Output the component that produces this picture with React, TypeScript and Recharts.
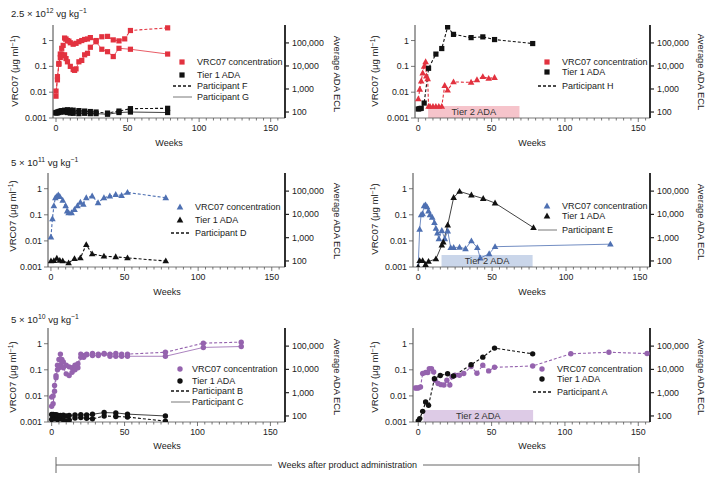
import React from 'react';
import { ComposedChart, Line, XAxis, YAxis, ReferenceArea } from 'recharts';

const FONT = "'Liberation Sans', Arial, Helvetica, sans-serif";
const RED = '#e2323f';
const BLUE = '#4e70b2';
const PURPLE = '#9563ae';
const BLACK = '#111';
const TXT = '#222';

// 2.5 x 10^12 vg/kg : participants F (dashed) and G (solid)
const fWeeks = [0, 1, 2, 3, 4, 5, 6, 7, 8, 9, 10, 12, 14, 16, 18, 20, 22, 24, 28, 32, 36, 40, 44, 48, 52, 78];
const fVrc = [0.011, 0.03, 0.13, 0.3, 0.5, 0.65, 1.25, 1.15, 1.0, 0.95, 0.82, 0.72, 0.78, 0.9, 1.0, 1.1, 1.15, 1.3, 1.0, 1.4, 1.45, 1.06, 0.97, 1.16, 2.45, 3.1];
const gWeeks = [0, 1, 2, 3, 4, 5, 6, 7, 8, 10, 12, 13, 14, 16, 18, 20, 22, 24, 28, 32, 36, 40, 44, 52, 78];
const gVrc = [0.007, 0.04, 0.12, 0.22, 0.3, 0.26, 0.28, 0.2, 0.15, 0.1, 0.075, 0.07, 0.08, 0.15, 0.17, 0.28, 0.32, 0.55, 0.9, 0.46, 0.37, 0.24, 0.5, 0.46, 0.3];
const fgAdaWeeks = [0, 1, 2, 3, 4, 6, 8, 10, 12, 16, 20, 24, 28, 36, 44, 52, 78];
const fAda = [95, 100, 105, 110, 115, 120, 125, 120, 120, 115, 110, 105, 100, 90, 110, 140, 145];
const gAda = [90, 92, 95, 100, 105, 100, 95, 90, 88, 85, 88, 85, 85, 80, 95, 100, 95];

// participant H
const hWeeks = [0, 1, 2, 3, 4, 5, 5.5, 6.4, 7, 8, 10, 12, 14, 16, 18, 20, 24, 36, 40, 44, 48, 52];
const hVrc = [0.0055, 0.013, 0.027, 0.055, 0.1, 0.15, 0.042, 0.033, 0.0028, 0.0028, 0.0028, 0.0028, 0.0028, 0.0028, 0.018, 0.012, 0.025, 0.024, 0.03, 0.04, 0.034, 0.037];
const hAdaWeeks = [0, 1, 2, 4, 7, 12, 16, 20, 24, 36, 44, 52, 78];
const hAda = [135, 140, 145, 245, 7900, 32700, 57000, 494000, 235000, 170000, 183000, 140000, 94000];
const hTier2 = [6.7, 69];

// 5 x 10^11 vg/kg : participant D
const dWeeks = [0, 1, 2, 3, 4, 5, 6, 8, 10, 11, 12, 14, 16, 18, 20, 22, 24, 28, 32, 36, 40, 44, 48, 52, 78];
const dVrc = [0.014, 0.07, 0.22, 0.45, 0.5, 0.58, 0.5, 0.36, 0.22, 0.14, 0.12, 0.12, 0.16, 0.22, 0.3, 0.25, 0.45, 0.52, 0.29, 0.45, 0.52, 0.6, 0.55, 0.72, 0.45];
const dAdaWeeks = [0, 2, 4, 6, 8, 12, 16, 20, 24, 28, 36, 44, 52, 78];
const dAda = [100, 103, 130, 105, 100, 82, 125, 135, 500, 200, 160, 150, 135, 100];

// participant E
const eWeeks = [0, 1, 2, 3, 4, 5, 6, 7, 8, 9.5, 11, 12, 13, 14, 16, 18, 20, 22, 24, 28, 32, 36, 40, 42, 48, 52, 130];
const eVrc = [0.001, 0.028, 0.1, 0.11, 0.22, 0.24, 0.2, 0.14, 0.1, 0.08, 0.05, 0.03, 0.02, 0.012, 0.025, 0.012, 0.024, 0.0055, 0.0056, 0.0057, 0.005, 0.01, 0.0055, 0.0022, 0.0032, 0.006, 0.0075];
const eAdaWeeks = [0, 1, 3, 5, 7, 12, 16, 17, 20, 24, 28, 36, 44, 52, 78];
const eAda = [55, 103, 103, 70, 95, 122, 475, 650, 3500, 53000, 97000, 68000, 48000, 30700, 2700];
const eTier2 = [15.8, 77.4];

// 5 x 10^10 vg/kg : participants B (dashed) and C (solid)
const bcWeeks = [0, 1, 2, 3, 4, 5, 6, 7, 8, 10, 12, 14, 16, 18, 20, 22, 24, 28, 32, 36, 40, 44, 48, 52, 78, 104, 130];
const bVrc = [0.004, 0.005, 0.015, 0.05, 0.15, 0.25, 0.4, 0.25, 0.2, 0.15, 0.13, 0.12, 0.15, 0.17, 0.4, 0.35, 0.4, 0.42, 0.4, 0.42, 0.4, 0.42, 0.4, 0.4, 0.47, 1.05, 1.15];
const cVrc = [0.009, 0.01, 0.025, 0.06, 0.1, 0.12, 0.15, 0.2, 0.12, 0.07, 0.06, 0.08, 0.1, 0.12, 0.3, 0.3, 0.38, 0.35, 0.35, 0.4, 0.33, 0.33, 0.33, 0.33, 0.33, 0.72, 0.78];
const bcAdaWeeks = [0, 1, 2, 3, 4, 6, 8, 10, 12, 16, 20, 24, 28, 36, 44, 52, 78];
const bAda = [70, 80, 75, 85, 70, 75, 68, 60, 65, 82, 85, 80, 75, 100, 95, 90, 60];
const cAda = [115, 115, 110, 112, 108, 105, 108, 100, 105, 110, 112, 110, 118, 140, 135, 120, 100];

// participant A
const aWeeks = [-2, -1, 0, 1.5, 3, 5, 6.5, 7.5, 9, 10.5, 11.5, 13.5, 15.5, 17.5, 19.5, 21.5, 23, 25, 28, 31, 36, 40, 44, 48, 52, 78, 104, 130, 156];
const aVrc = [0.02, 0.02, 0.02, 0.022, 0.072, 0.079, 0.079, 0.11, 0.11, 0.083, 0.04, 0.03, 0.027, 0.026, 0.04, 0.026, 0.054, 0.062, 0.062, 0.072, 0.133, 0.074, 0.15, 0.091, 0.125, 0.14, 0.41, 0.47, 0.42];
const aAdaWeeks = [0, 1, 3, 5, 7, 11, 15, 20, 24, 36, 44, 52, 78];
const aAda = [61, 77, 158, 397, 286, 3980, 5500, 6500, 5200, 15800, 33500, 82000, 46600];
const aTier2 = [3.5, 78.3];

const weekTicks = [0, 5, 10, 15, 20, 25, 30, 35, 40, 45, 50, 55, 60, 65, 70, 75, 80, 85, 90, 95, 100, 105, 110, 115, 120, 125, 130, 135, 140, 145, 150, 155];
const vrcTicks = [0.001, 0.01, 0.1, 1];
const adaTicks = [100, 1000, 10000, 100000];

const pts = (w: number[], v: number[]) => w.map((x, i) => ({ w: x, v: v[i] }));

type Shape = 'square' | 'triangle' | 'circle';

function marker(shape: Shape, cx: number, cy: number, color: string, key?: string) {
  if (shape === 'square') return <rect key={key} x={cx - 2.6} y={cy - 2.6} width={5.2} height={5.2} fill={color} />;
  if (shape === 'triangle')
    return <polygon key={key} points={`${cx},${cy - 3.5} ${cx + 3.3},${cy + 2.4} ${cx - 3.3},${cy + 2.4}`} fill={color} />;
  return <circle key={key} cx={cx} cy={cy} r={2.7} fill={color} />;
}

interface Series {
  data: { w: number; v: number }[];
  axis: 'left' | 'right';
  color: string;
  shape: Shape;
  dashed?: boolean;
}

function XTick(p: any) {
  const major = p.payload.value % 50 === 0;
  return (
    <g>
      <line x1={p.x} x2={p.x} y1={p.y} y2={p.y + (major ? 4 : 2.5)} stroke="#555" strokeWidth={0.8} />
      {major && (
        <text x={p.x} y={p.y + 13} textAnchor="middle" fontSize={8.8} fill={TXT} fontFamily={FONT}>
          {p.payload.value}
        </text>
      )}
    </g>
  );
}

function LeftTick(p: any) {
  return (
    <g>
      <line x1={p.x - 4} x2={p.x} y1={p.y} y2={p.y} stroke="#555" strokeWidth={0.8} />
      <text x={p.x - 6} y={p.y + 3} textAnchor="end" fontSize={8.8} fill={TXT} fontFamily={FONT}>
        {String(p.payload.value)}
      </text>
    </g>
  );
}

function RightTick(p: any) {
  return (
    <g>
      <line x1={p.x} x2={p.x + 4} y1={p.y} y2={p.y} stroke="#222" strokeWidth={1.2} />
      <text x={p.x + 7} y={p.y + 3} textAnchor="start" fontSize={8.8} fill={TXT} fontFamily={FONT}>
        {p.payload.value.toLocaleString('en-US')}
      </text>
    </g>
  );
}

interface PanelProps {
  left: number;
  top: number;
  w: number;
  h: number;
  xDomain: [number, number];
  series: Series[];
  tier2?: number[];
  tier2Color?: string;
}

function Panel({ left, top, w, h, xDomain, series, tier2, tier2Color }: PanelProps) {
  return (
    <div style={{ position: 'absolute', left: left - 40, top: top - 10 }}>
      <ComposedChart width={w + 80} height={h + 40} margin={{ top: 10, right: 0, bottom: 0, left: 0 }}>
        <XAxis
          dataKey="w"
          type="number"
          domain={xDomain}
          allowDataOverflow
          ticks={weekTicks}
          interval={0}
          tick={(p: any) => <XTick {...p} />}
          tickLine={false}
          tickSize={0}
          tickMargin={0}
          axisLine={{ stroke: '#555', strokeWidth: 0.8 }}
          height={30}
        />
        <YAxis
          yAxisId="left"
          scale="log"
          domain={[0.001, 4]}
          allowDataOverflow
          ticks={vrcTicks}
          interval={0}
          tick={(p: any) => <LeftTick {...p} />}
          tickLine={false}
          tickSize={0}
          tickMargin={0}
          axisLine={{ stroke: '#444', strokeWidth: 1 }}
          width={40}
        />
        <YAxis
          yAxisId="right"
          orientation="right"
          scale="log"
          domain={[55, 600000]}
          allowDataOverflow
          ticks={adaTicks}
          interval={0}
          tick={(p: any) => <RightTick {...p} />}
          tickLine={false}
          tickSize={0}
          tickMargin={0}
          axisLine={{ stroke: '#1a1a1a', strokeWidth: 1.8 }}
          width={40}
        />
        {tier2 && (
          <ReferenceArea
            yAxisId="left"
            x1={tier2[0]}
            x2={tier2[1]}
            y1={0.001}
            y2={0.0029}
            fill={tier2Color}
            fillOpacity={1}
            stroke="none"
            ifOverflow="visible"
            label={{ value: 'Tier 2 ADA', position: 'center', fontSize: 9.3, fill: '#333', fontFamily: FONT }}
          />
        )}
        {series.map((s, i) => (
          <Line
            key={i}
            data={s.data}
            dataKey="v"
            yAxisId={s.axis}
            type="linear"
            stroke={s.color}
            strokeWidth={s.dashed ? 1.1 : 0.8}
            strokeDasharray={s.dashed ? '3 2' : undefined}
            dot={(p: any) =>
              p.cx == null || p.cy == null ? <g key={`e${p.index}`} /> : marker(s.shape, p.cx, p.cy, s.color, `d${p.index}`)
            }
            activeDot={false}
            isAnimationActive={false}
          />
        ))}
      </ComposedChart>
    </div>
  );
}

interface LegendRow {
  text: string;
  shape?: Shape;
  color?: string;
  line?: 'dashed' | 'solid';
}

function Legend({ mx, tx, ys, rows }: { mx: number; tx: number; ys: number[]; rows: LegendRow[] }) {
  return (
    <g>
      {rows.map((r, i) => (
        <g key={i}>
          {r.shape && marker(r.shape, mx, ys[i], r.color || BLACK)}
          {r.line === 'dashed' && <line x1={mx - 9} x2={mx + 10} y1={ys[i]} y2={ys[i]} stroke={BLACK} strokeWidth={1.6} strokeDasharray="3 2" />}
          {r.line === 'solid' && <line x1={mx - 9} x2={mx + 10} y1={ys[i]} y2={ys[i]} stroke="#555" strokeWidth={0.8} />}
          <text x={tx} y={ys[i] + 3.2} fontSize={9} fill={TXT} fontFamily={FONT}>
            {r.text}
          </text>
        </g>
      ))}
    </g>
  );
}

function AxisTitles({ lx, ly, rx, ry, wx, wy }: { lx: number; ly: number; rx: number; ry: number; wx: number; wy: number }) {
  return (
    <g fontFamily={FONT} fill={TXT}>
      <text transform={`translate(${lx},${ly}) rotate(-90)`} textAnchor="middle" fontSize={9.6}>
        VRC07 (μg ml
        <tspan dy={-3.5} fontSize={6.8}>−1</tspan>
        <tspan dy={3.5}>)</tspan>
      </text>
      <text transform={`translate(${rx},${ry}) rotate(90)`} textAnchor="middle" fontSize={9.4}>
        Average ADA ECL
      </text>
      <text x={wx} y={wy} textAnchor="middle" fontSize={9}>
        Weeks
      </text>
    </g>
  );
}

function DoseTitle({ x, y, mant, exp }: { x: number; y: number; mant: string; exp: string }) {
  return (
    <text x={x} y={y} fontSize={9.6} fill={TXT} fontFamily={FONT}>
      {mant} × 10
      <tspan dy={-4} fontSize={6.8}>{exp}</tspan>
      <tspan dy={4}> vg kg</tspan>
      <tspan dy={-4} fontSize={6.8}>−1</tspan>
    </text>
  );
}

export default function App() {
  return (
    <div style={{ position: 'absolute', left: 0, top: 0, width: 720, height: 487, background: '#fff', overflow: 'hidden' }}>
      <Panel
        left={53}
        top={25}
        w={232}
        h={93}
        xDomain={[-2.1, 160]}
        series={[
          { data: pts(fWeeks, fVrc), axis: 'left', color: RED, shape: 'square', dashed: true },
          { data: pts(gWeeks, gVrc), axis: 'left', color: RED, shape: 'square' },
          { data: pts(fgAdaWeeks, fAda), axis: 'right', color: BLACK, shape: 'square', dashed: true },
          { data: pts(fgAdaWeeks, gAda), axis: 'right', color: BLACK, shape: 'square' },
        ]}
      />
      <Panel
        left={415}
        top={25}
        w={235}
        h={93}
        xDomain={[-2.25, 158]}
        tier2={hTier2}
        tier2Color="#f6c4cb"
        series={[
          { data: pts(hWeeks, hVrc), axis: 'left', color: RED, shape: 'triangle', dashed: true },
          { data: pts(hAdaWeeks, hAda), axis: 'right', color: BLACK, shape: 'square', dashed: true },
        ]}
      />
      <Panel
        left={48}
        top={173}
        w={237}
        h={94}
        xDomain={[-2, 159]}
        series={[
          { data: pts(dWeeks, dVrc), axis: 'left', color: BLUE, shape: 'triangle', dashed: true },
          { data: pts(dAdaWeeks, dAda), axis: 'right', color: BLACK, shape: 'triangle', dashed: true },
        ]}
      />
      <Panel
        left={413}
        top={173}
        w={237}
        h={94}
        xDomain={[-3.5, 156.8]}
        tier2={eTier2}
        tier2Color="#cad6ea"
        series={[
          { data: pts(eWeeks, eVrc), axis: 'left', color: BLUE, shape: 'triangle' },
          { data: pts(eAdaWeeks, eAda), axis: 'right', color: BLACK, shape: 'triangle' },
        ]}
      />
      <Panel
        left={48}
        top={328}
        w={237}
        h={94}
        xDomain={[-2.5, 160]}
        series={[
          { data: pts(bcWeeks, bVrc), axis: 'left', color: PURPLE, shape: 'circle', dashed: true },
          { data: pts(bcWeeks, cVrc), axis: 'left', color: PURPLE, shape: 'circle' },
          { data: pts(bcAdaWeeks, bAda), axis: 'right', color: BLACK, shape: 'circle', dashed: true },
          { data: pts(bcAdaWeeks, cAda), axis: 'right', color: BLACK, shape: 'circle' },
        ]}
      />
      <Panel
        left={413}
        top={328}
        w={237}
        h={94}
        xDomain={[-3.6, 158]}
        tier2={aTier2}
        tier2Color="#ddcbe6"
        series={[
          { data: pts(aWeeks, aVrc), axis: 'left', color: PURPLE, shape: 'circle', dashed: true },
          { data: pts(aAdaWeeks, aAda), axis: 'right', color: BLACK, shape: 'circle', dashed: true },
        ]}
      />

      <svg width={720} height={487} style={{ position: 'absolute', left: 0, top: 0, pointerEvents: 'none' }}>
        <DoseTitle x={11} y={17} mant="2.5" exp="12" />
        <DoseTitle x={11} y={166} mant="5" exp="11" />
        <DoseTitle x={11} y={323} mant="5" exp="10" />

        <AxisTitles lx={18} ly={71} rx={334} ry={74} wx={169} wy={146} />
        <AxisTitles lx={378} ly={71} rx={698} ry={72} wx={532} wy={146} />
        <AxisTitles lx={16} ly={216} rx={334} ry={221} wx={167} wy={295} />
        <AxisTitles lx={378} ly={219} rx={698} ry={222} wx={532} wy={295} />
        <AxisTitles lx={16} ly={377} rx={334} ry={377} wx={167} wy={449} />
        <AxisTitles lx={378} ly={377} rx={698} ry={377} wx={532} wy={449} />

        <Legend
          mx={182}
          tx={197}
          ys={[62, 75, 86, 97]}
          rows={[
            { text: 'VRC07 concentration', shape: 'square', color: RED },
            { text: 'Tier 1 ADA', shape: 'square', color: BLACK },
            { text: 'Participant F', line: 'dashed' },
            { text: 'Participant G', line: 'solid' },
          ]}
        />
        <Legend
          mx={547}
          tx={562}
          ys={[62, 72, 86]}
          rows={[
            { text: 'VRC07 concentration', shape: 'square', color: RED },
            { text: 'Tier 1 ADA', shape: 'square', color: BLACK },
            { text: 'Participant H', line: 'dashed' },
          ]}
        />
        <Legend
          mx={180}
          tx={195}
          ys={[207, 220, 233]}
          rows={[
            { text: 'VRC07 concentration', shape: 'triangle', color: BLUE },
            { text: 'Tier 1 ADA', shape: 'triangle', color: BLACK },
            { text: 'Participant D', line: 'dashed' },
          ]}
        />
        <Legend
          mx={547}
          tx={562}
          ys={[206, 216, 230]}
          rows={[
            { text: 'VRC07 concentration', shape: 'triangle', color: BLUE },
            { text: 'Tier 1 ADA', shape: 'triangle', color: BLACK },
            { text: 'Participant E', line: 'solid' },
          ]}
        />
        <Legend
          mx={180}
          tx={192}
          ys={[369, 381, 391, 402]}
          rows={[
            { text: 'VRC07 concentration', shape: 'circle', color: PURPLE },
            { text: 'Tier 1 ADA', shape: 'circle', color: BLACK },
            { text: 'Participant B', line: 'dashed' },
            { text: 'Participant C', line: 'solid' },
          ]}
        />
        <Legend
          mx={542}
          tx={557}
          ys={[369, 379, 392]}
          rows={[
            { text: 'VRC07 concentration', shape: 'circle', color: PURPLE },
            { text: 'Tier 1 ADA', shape: 'circle', color: BLACK },
            { text: 'Participant A', line: 'dashed' },
          ]}
        />

        <g stroke="#555" strokeWidth={0.9}>
          <line x1={56} x2={272} y1={465} y2={465} />
          <line x1={423} x2={639} y1={465} y2={465} />
          <line x1={56} x2={56} y1={457} y2={473} />
          <line x1={639} x2={639} y1={457} y2={473} />
        </g>
        <text x={347.5} y={468} textAnchor="middle" fontSize={9} fill={TXT} fontFamily={FONT}>
          Weeks after product administration
        </text>
      </svg>
    </div>
  );
}
